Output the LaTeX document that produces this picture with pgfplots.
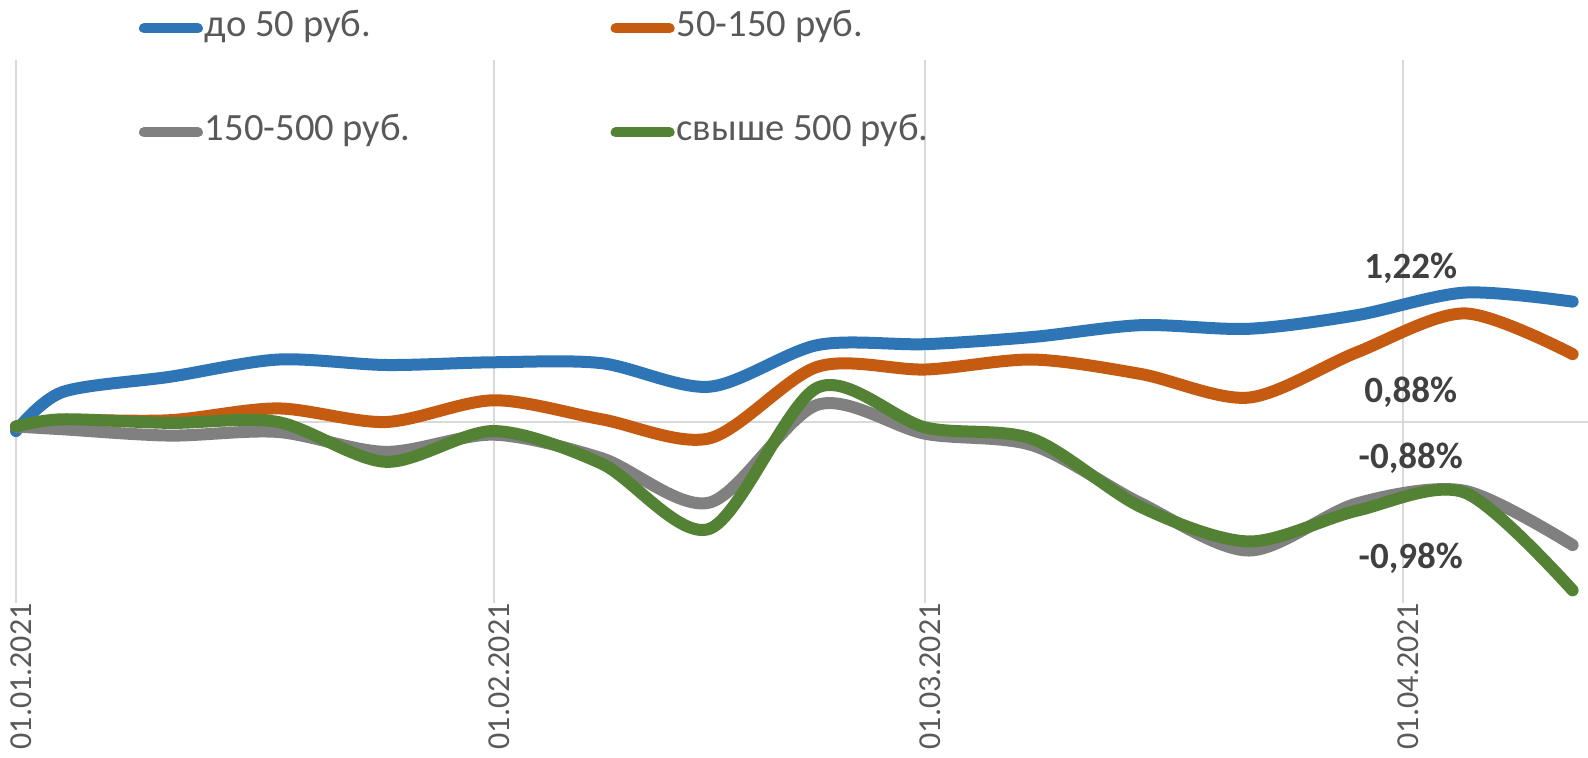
\documentclass[border=0pt]{standalone}
\usepackage{pgfplots}
\pgfplotsset{compat=1.18}
\usepackage{fontspec}
\setmainfont{Carlito}
\definecolor{cblue}{HTML}{2E75B6}
\definecolor{corange}{HTML}{C55A11}
\definecolor{cgray}{HTML}{808080}
\definecolor{cgreen}{HTML}{548235}
\definecolor{gridc}{HTML}{D9D9D9}
\definecolor{txt}{HTML}{595959}
\definecolor{lbl}{HTML}{404040}

\begin{document}
\begin{tikzpicture}
\useasboundingbox (0,0) rectangle (794pt,378.5pt);
\begin{axis}[
    at={(8pt,77pt)}, anchor=south west,
    scale only axis, width=786pt, height=271.5pt,
    xmin=0, xmax=102, ymin=-2, ymax=4,
    clip=false,
    axis line style={draw=none},
    tick style={draw=none},
    xtick={0,31,59,90},
    xticklabels={01.01.2021,01.02.2021,01.03.2021,01.04.2021},
    xticklabel style={rotate=90, anchor=east, inner sep=0pt, yshift=-2.5pt,
        font=\fontsize{16}{16}\selectfont, text=txt},
    xmajorgrids,
    major grid style={gridc, line width=1pt},
    ytick=\empty,
    extra y ticks={0}, extra y tick labels={},
    extra y tick style={grid=major, major grid style={gridc, line width=1pt}},
    legend columns=2,
    legend cell align=left,
    legend image code/.code={\draw[#1, line width=5pt, line cap=round] (2.5pt,-0.5pt) -- (29.5pt,-0.5pt);},
    legend style={at={(0.0782,1.095)}, anchor=north west, draw=none, fill=none,
        inner sep=0pt, outer sep=0pt, row sep=33pt,
        font=\fontsize{19.3}{22}\selectfont,
        nodes={inner sep=0pt, text=txt, text height=14pt, text depth=5pt},
        /tikz/every odd column/.append style={column sep=1pt},
        /tikz/every even column/.append style={column sep=100pt}},
    every axis plot/.append style={line width=6pt, line cap=round, line join=round, smooth, tension=0.5},
]
% до 50 руб.
\addplot[cblue] coordinates {(0,-0.10) (3,0.33) (10,0.50) (17,0.69) (24,0.63) (31,0.66) (38,0.65) (45,0.39) (52,0.85) (59,0.86) (66,0.94) (73,1.07) (80,1.03) (87,1.18) (94,1.43) (101,1.33)};
% 50-150 руб.
\addplot[corange] coordinates {(0,-0.05) (3,0.02) (10,0.02) (17,0.15) (24,0.00) (31,0.24) (38,0.03) (45,-0.18) (52,0.61) (59,0.58) (66,0.69) (73,0.53) (80,0.27) (87,0.77) (94,1.20) (101,0.75)};
% 150-500 руб.
\addplot[cgray] coordinates {(0,-0.05) (3,-0.08) (10,-0.15) (17,-0.11) (24,-0.33) (31,-0.14) (38,-0.40) (45,-0.89) (52,0.19) (59,-0.13) (66,-0.26) (73,-0.90) (80,-1.42) (87,-0.90) (94,-0.76) (101,-1.36)};
% свыше 500 руб.
\addplot[cgreen] coordinates {(0,-0.05) (3,0.03) (10,-0.01) (17,0.00) (24,-0.44) (31,-0.10) (38,-0.46) (45,-1.18) (52,0.38) (59,-0.06) (66,-0.19) (73,-0.94) (80,-1.32) (87,-0.98) (94,-0.78) (101,-1.86)};
\legend{до 50 руб., 50-150 руб., 150-500 руб., свыше 500 руб.}

\node[font=\fontsize{18.5}{18.5}\selectfont\bfseries, text=lbl] at (axis cs:90.5,1.70) {1,22\%};
\node[font=\fontsize{18.5}{18.5}\selectfont\bfseries, text=lbl] at (axis cs:90.5,0.33) {0,88\%};
\node[font=\fontsize{18.5}{18.5}\selectfont\bfseries, text=lbl] at (axis cs:90.5,-0.40) {-0,88\%};
\node[font=\fontsize{18.5}{18.5}\selectfont\bfseries, text=lbl] at (axis cs:90.5,-1.51) {-0,98\%};
\end{axis}
\end{tikzpicture}
\end{document}
